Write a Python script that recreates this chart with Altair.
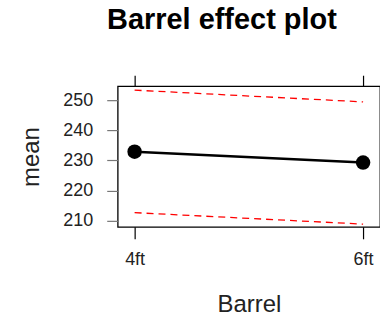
import altair as alt
import pandas as pd

# Effect estimates for Barrel with 95% confidence band
barrel = ["4ft", "6ft"]
fit = [232.9, 229.3]
lower = [212.7, 208.9]
upper = [253.3, 249.4]

df = pd.DataFrame({"Barrel": barrel, "fit": fit, "lower": lower, "upper": upper})

FONT = "Liberation Sans"
x_scale = alt.Scale(padding=0.074)
y_scale = alt.Scale(domain=[208.0, 254.6], nice=False, zero=False)

x_axis = alt.Axis(
    title="Barrel", orient="bottom", labelAngle=0, domain=False,
    tickColor="black", tickSize=12, tickWidth=1.2, labelPadding=12,
    labelFont=FONT, labelFontSize=18, labelFontWeight="normal", labelColor="#222",
    titleFont=FONT, titleFontSize=24, titleFontWeight="normal",
    titleColor="#222", titlePadding=24,
)
y_axis = alt.Axis(
    title="mean", values=[210, 220, 230, 240, 250], grid=False, domain=False,
    labelOverlap=False,
    tickColor="#777", tickSize=11, tickWidth=1.2, labelPadding=14,
    labelFont=FONT, labelFontSize=18, labelFontWeight="normal", labelColor="#222",
    titleFont=FONT, titleFontSize=24, titleFontWeight="normal",
    titleColor="#222", titlePadding=19,
)


def xe(axis=None):
    return alt.X("Barrel:N", sort=barrel, scale=x_scale, axis=axis)


def ye(field):
    return alt.Y(f"{field}:Q", scale=y_scale, axis=y_axis)


base = alt.Chart(df)

fit_line = base.mark_line(color="black", strokeWidth=2.5).encode(x=xe(x_axis), y=ye("fit"))
fit_pts = base.mark_circle(color="black", size=210, opacity=1).encode(x=xe(), y=ye("fit"))
upper_line = base.mark_line(color="red", strokeDash=[7, 5], strokeWidth=1.3).encode(
    x=xe(), y=ye("upper"))
lower_line = base.mark_line(color="red", strokeDash=[7, 5], strokeWidth=1.3).encode(
    x=xe(), y=ye("lower"))

# top tick marks at each level, no labels
top_ticks = base.mark_point(opacity=0).encode(
    x=xe(alt.Axis(orient="top", title=None, labels=False, domain=False,
                  tickColor="black", tickSize=11, tickWidth=1.2)),
    y=ye("fit"),
)

chart = (
    alt.layer(upper_line, lower_line, fit_line, fit_pts, top_ticks)
    .resolve_axis(x="independent")
    .properties(
        width=263, height=141,
        autosize=alt.AutoSizeParams(type="none"),
        padding={"left": 118, "top": 86, "right": 0, "bottom": 100},
        view=alt.ViewBackground(stroke="black", strokeWidth=1.3, fill="white"),
        title=alt.TitleParams(
            "Barrel effect plot", font=FONT, fontSize=29, fontWeight="bold",
            color="black", anchor="middle", frame="group", dx=-27, offset=40,
        ),
    )
    .configure(background="white")
)

chart.save("out.html", embed_options={"renderer": "svg", "actions": False})
